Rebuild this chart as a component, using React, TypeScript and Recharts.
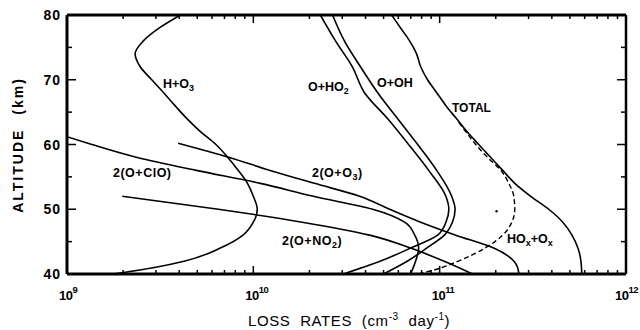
import { LineChart, Line, XAxis, YAxis, ReferenceLine, ReferenceDot } from 'recharts'

// altitude grids (km) and loss rates (cm-3 day-1)
const hO3Alt = [40, 41, 42, 44, 46, 48, 50, 52, 54, 56, 58, 60, 62, 64, 66, 68, 70, 72, 74, 76, 78, 80]
const hO3Rate = [1.77e9, 2.95e9, 4.3e9, 6.65e9, 8.8e9, 1.0e10, 1.05e10, 1.0e10, 9.3e9, 8.3e9, 7.3e9, 6.3e9, 5.2e9, 4.4e9, 3.8e9, 3.3e9, 2.85e9, 2.47e9, 2.32e9, 2.57e9, 3.13e9, 4.06e9]

const oHO2Alt = [40, 42, 44, 46, 48, 50, 52, 56, 60, 64, 68, 72, 76, 80]
const oHO2Rate = [3.05e10, 4.82e10, 6.98e10, 9.75e10, 1.08e11, 1.12e11, 1.08e11, 8.73e10, 6.81e10, 5.25e10, 3.95e10, 3.4e10, 2.76e10, 2.29e10]

const oOHAlt = [40, 42, 44, 46, 48, 50, 52, 56, 60, 64, 68, 72, 76, 80]
const oOHRate = [5.0e10, 6.73e10, 8.51e10, 1.06e11, 1.17e11, 1.21e11, 1.16e11, 9.64e10, 7.62e10, 5.94e10, 4.65e10, 3.76e10, 3.08e10, 2.66e10]

const totalAlt = [40, 42, 44, 46, 48, 50, 52, 54, 56, 58, 60, 62, 64, 66, 68, 70, 72, 74, 76, 78, 80]
const totalRate = [5.79e11, 5.73e11, 5.52e11, 5.13e11, 4.58e11, 3.85e11, 3.08e11, 2.53e11, 2.18e11, 1.88e11, 1.62e11, 1.4e11, 1.23e11, 1.08e11, 9.64e10, 8.61e10, 7.91e10, 7.52e10, 6.9e10, 6.17e10, 5.52e10]

const hoxOxAlt = [40, 41, 42, 44, 46, 48, 50, 52, 54, 56, 58, 60, 62, 63.5]
const hoxOxRate = [7.7e10, 1.03e11, 1.26e11, 1.75e11, 2.18e11, 2.44e11, 2.53e11, 2.5e11, 2.35e11, 2.13e11, 1.81e11, 1.56e11, 1.38e11, 1.26e11]

const clOAlt = [40, 42, 44, 46, 48, 50, 52, 54, 56, 58, 60, 61.2]
const clORate = [6.98e10, 7.43e10, 7.71e10, 7.35e10, 6.49e10, 4.37e10, 2.1e10, 1.09e10, 4.94e9, 2.38e9, 1.36e9, 1.0e9]

const o3Alt = [40, 41, 42, 44, 46, 48, 50, 52, 54, 56, 58, 60.2]
const o3Rate = [2.66e11, 2.62e11, 2.5e11, 1.95e11, 1.22e11, 7.91e10, 5.38e10, 3.72e10, 2.13e10, 1.23e10, 7.43e9, 3.95e9]

const no2Alt = [40, 42, 44, 46, 48, 50, 52]
const no2Rate = [1.5e11, 1.05e11, 6.98e10, 4.21e10, 1.83e10, 6.49e9, 1.98e9]

// small stray dot printed in the original figure
const strayDot = { v: 2.02e11, alt: 49.7 }

const xTicks = [
  1e9, 2e9, 3e9, 4e9, 5e9, 6e9, 7e9, 8e9, 9e9,
  1e10, 2e10, 3e10, 4e10, 5e10, 6e10, 7e10, 8e10, 9e10,
  1e11, 2e11, 3e11, 4e11, 5e11, 6e11, 7e11, 8e11, 9e11,
  1e12,
]
const yTicks = [40, 45, 50, 55, 60, 65, 70, 75, 80]

const zip = (alt: number[], rate: number[]) => alt.map((a, i) => ({ alt: a, v: rate[i] }))

const PLOT_TOP = 15
const PLOT_BOTTOM = 274
const PLOT_LEFT = 67
const PLOT_RIGHT = 626
const FONT = '"Liberation Sans", Arial, sans-serif'

const XTick = ({ x, payload }: any) => {
  const lg = Math.log10(payload.value)
  const exp = Math.round(lg)
  const major = Math.abs(lg - exp) < 1e-6
  const len = major ? 8 : 4
  return (
    <g>
      <line x1={x} x2={x} y1={PLOT_BOTTOM} y2={PLOT_BOTTOM - len} stroke="#000" strokeWidth={1.5} />
      <line x1={x} x2={x} y1={PLOT_TOP} y2={PLOT_TOP + len} stroke="#000" strokeWidth={1.5} />
      {major && (
        <text x={x - (exp >= 12 ? 11 : 8)} y={300} fontFamily={FONT} fontWeight="bold" fontSize={13} fill="#000" letterSpacing={-0.5}>
          10<tspan dy={-7} fontSize={9.5}>{exp}</tspan>
        </text>
      )}
    </g>
  )
}

const YTick = ({ y, payload }: any) => {
  const major = payload.value % 10 === 0
  const len = major ? 9 : 5
  return (
    <g>
      <line x1={PLOT_LEFT} x2={PLOT_LEFT + len} y1={y} y2={y} stroke="#000" strokeWidth={1.5} />
      <line x1={PLOT_RIGHT} x2={PLOT_RIGHT - len} y1={y} y2={y} stroke="#000" strokeWidth={1.5} />
      {major && (
        <text x={61} y={y + 5} textAnchor="end" fontFamily={FONT} fontWeight="bold" fontSize={14} fill="#000" letterSpacing={1}>
          {payload.value}
        </text>
      )}
    </g>
  )
}

const lbl = { fontFamily: FONT, fontWeight: 'bold' as const, fontSize: 12.5, fill: '#000' }

export default function App() {
  const series = [
    { key: 'hO3', data: zip(hO3Alt, hO3Rate) },
    { key: 'oHO2', data: zip(oHO2Alt, oHO2Rate) },
    { key: 'oOH', data: zip(oOHAlt, oOHRate) },
    { key: 'total', data: zip(totalAlt, totalRate) },
    { key: 'clo', data: zip(clOAlt, clORate) },
    { key: 'o3', data: zip(o3Alt, o3Rate) },
    { key: 'no2', data: zip(no2Alt, no2Rate) },
  ]

  return (
    <div style={{ position: 'absolute', left: 0, top: 0, width: 640, height: 330, background: '#fff' }}>
      <LineChart
        width={640}
        height={330}
        layout="vertical"
        margin={{ top: PLOT_TOP, right: 640 - PLOT_RIGHT, bottom: 16, left: 20 }}
      >
        <XAxis
          type="number"
          dataKey="v"
          scale="log"
          domain={[1e9, 1e12]}
          allowDataOverflow
          ticks={xTicks}
          interval={0}
          tick={<XTick />}
          tickLine={false}
          height={40}
          axisLine={{ stroke: '#000', strokeWidth: 3 }}
        />
        <YAxis
          type="number"
          dataKey="alt"
          domain={[40, 80]}
          reversed
          allowDataOverflow
          ticks={yTicks}
          interval={0}
          tick={<YTick />}
          tickLine={false}
          width={PLOT_LEFT - 20}
          axisLine={{ stroke: '#000', strokeWidth: 3 }}
        />
        <ReferenceLine y={80} stroke="#000" strokeWidth={3} />
        <ReferenceLine x={1e12} stroke="#000" strokeWidth={2.5} />
        {series.map(s => (
          <Line
            key={s.key}
            data={s.data}
            dataKey="v"
            type="monotone"
            stroke="#000"
            strokeWidth={1.6}
            dot={false}
            activeDot={false}
            isAnimationActive={false}
          />
        ))}
        <Line
          data={zip(hoxOxAlt, hoxOxRate)}
          dataKey="v"
          type="monotone"
          stroke="#000"
          strokeWidth={1.4}
          strokeDasharray="5 3"
          dot={false}
          activeDot={false}
          isAnimationActive={false}
        />
        <ReferenceDot x={strayDot.v} y={strayDot.alt} r={1.2} fill="#000" stroke="none" />
        <text x={163} y={88} {...lbl}>H+O<tspan dy={3} fontSize={9}>3</tspan></text>
        <text x={308} y={91} {...lbl}>O+HO<tspan dy={3} fontSize={9}>2</tspan></text>
        <text x={377} y={87} {...lbl}>O+OH</text>
        <text x={452} y={112} {...lbl} fontSize={12}>TOTAL</text>
        <text x={113} y={177} {...lbl} letterSpacing={0.5}>2(O+ClO)</text>
        <text x={312} y={177} {...lbl} letterSpacing={0.5}>2(O+O<tspan dy={3} fontSize={9}>3</tspan><tspan dy={-3}>)</tspan></text>
        <text x={282} y={245} {...lbl} letterSpacing={0.5}>2(O+NO<tspan dy={3} fontSize={9}>2</tspan><tspan dy={-3}>)</tspan></text>
        <text x={507} y={243} {...lbl}>HO<tspan dy={3} fontSize={9}>x</tspan><tspan dy={-3}>+O</tspan><tspan dy={3} fontSize={9}>x</tspan></text>
        <text
          x={18}
          y={145}
          transform="rotate(-90 18 145)"
          textAnchor="middle"
          dominantBaseline="central"
          fontFamily={FONT}
          fontWeight="bold"
          fontSize={14}
          letterSpacing={2}
          wordSpacing={8}
          fill="#000"
        >
          ALTITUDE (km)
        </text>
        <text x={248} y={326} fontFamily={FONT} fontSize={15} letterSpacing={0.6} wordSpacing={5} fill="#000">
          LOSS RATES (cm<tspan dy={-6} fontSize={10}>-3</tspan><tspan dy={6}> day</tspan><tspan dy={-6} fontSize={10}>-1</tspan><tspan dy={6}>)</tspan>
        </text>
      </LineChart>
    </div>
  )
}
